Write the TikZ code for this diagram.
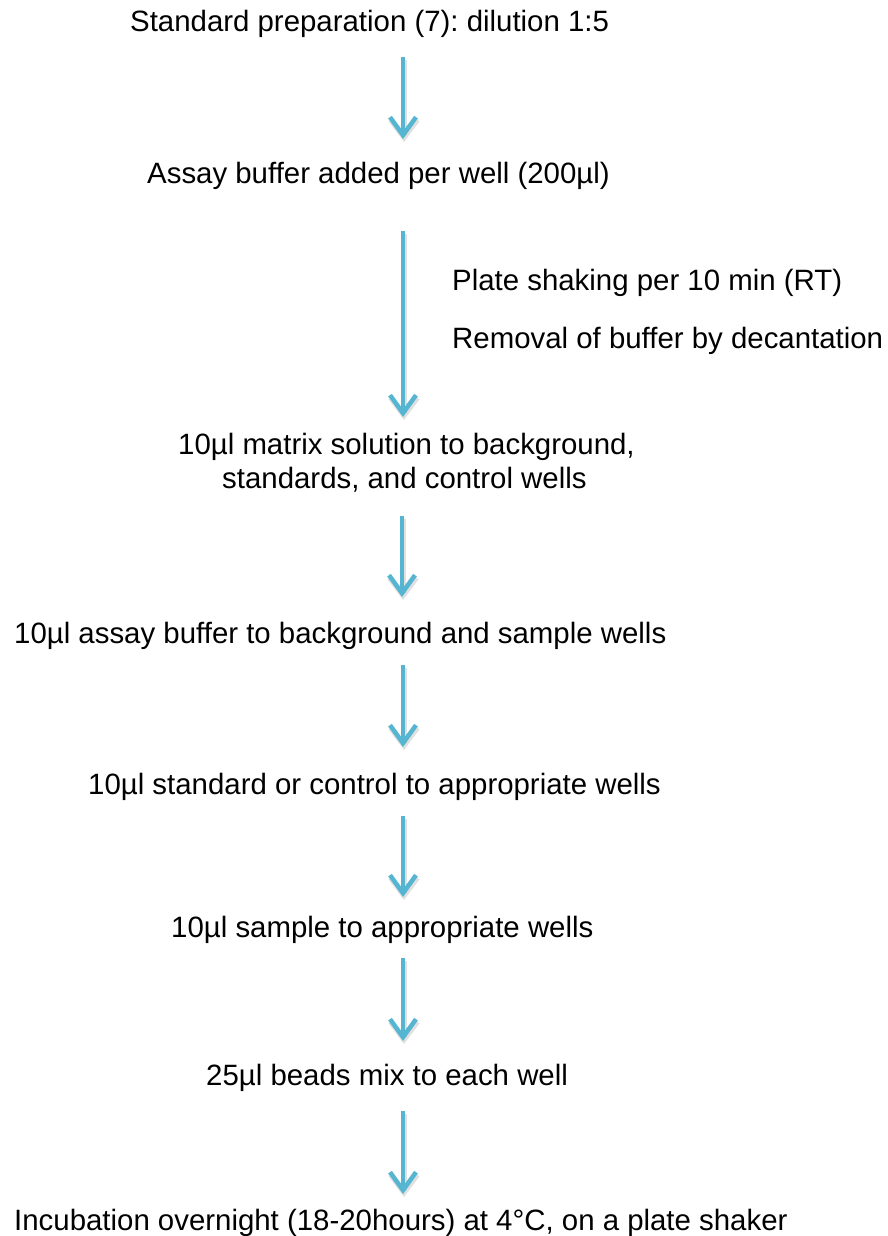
\documentclass[tikz,border=0pt]{standalone}
\usepackage{fontspec}
\setmainfont{Liberation Sans}
\usetikzlibrary{arrows.meta}
\definecolor{arrowblue}{RGB}{86,182,210}
\frenchspacing
\begin{document}
\begin{tikzpicture}[x=1pt,y=-1pt,
  lbl/.style={anchor=base west,inner sep=0pt,font=\fontsize{29.4}{34}\selectfont,text=black},
  flow/.style={draw=arrowblue,line width=4pt,-{Straight Barb[length=18pt,width=26pt,line width=4.5pt]}},
  flowshadow/.style={draw=black,opacity=0.12,line width=5pt,-{Straight Barb[length=18pt,width=27pt,line width=5pt]}}]
\useasboundingbox[fill=white] (0,0) rectangle (888,1236);
% texts
\node[lbl] (t1) at (130,32) {Standard preparation (7): dilution 1:5};
\node[lbl] (t2) at (147,183) {Assay buffer added per well (200µl)};
\node[lbl] (n1) at (452,290) {Plate shaking per 10 min (RT)};
\node[lbl] (n2) at (452,348) {Removal of buffer by decantation};
\node[lbl] (t3a) at (178,454) {10µl matrix solution to background,};
\node[lbl] (t3b) at (222,488) {standards, and control wells};
\node[lbl] (t4) at (14,643) {10µl assay buffer to background and sample wells};
\node[lbl] (t5) at (88,794) {10µl standard or control to appropriate wells};
\node[lbl] (t6) at (171,937) {10µl sample to appropriate wells};
\node[lbl] (t7) at (206,1085) {25µl beads mix to each well};
\node[lbl] (t8) at (14,1230) {Incubation overnight (18-20hours) at 4°C, on a plate shaker};
% arrow end points
\coordinate (a1s) at (403,57);   \coordinate (a1e) at (403,139);
\coordinate (a2s) at (403,231);  \coordinate (a2e) at (403,417);
\coordinate (a3s) at (402,516);  \coordinate (a3e) at (402,597);
\coordinate (a4s) at (403,665);  \coordinate (a4e) at (403,747);
\coordinate (a5s) at (403,816);  \coordinate (a5e) at (403,897);
\coordinate (a6s) at (403,958);  \coordinate (a6e) at (403,1041);
\coordinate (a7s) at (403,1111); \coordinate (a7e) at (403,1194);
% shadows
\foreach \i in {1,...,7}{
  \draw[flowshadow] ([shift={(1,3)}]a\i s) -- ([shift={(1,3)}]a\i e);
}
% arrows
\foreach \i in {1,...,7}{
  \draw[flow] (a\i s) -- (a\i e);
}
\end{tikzpicture}
\end{document}
